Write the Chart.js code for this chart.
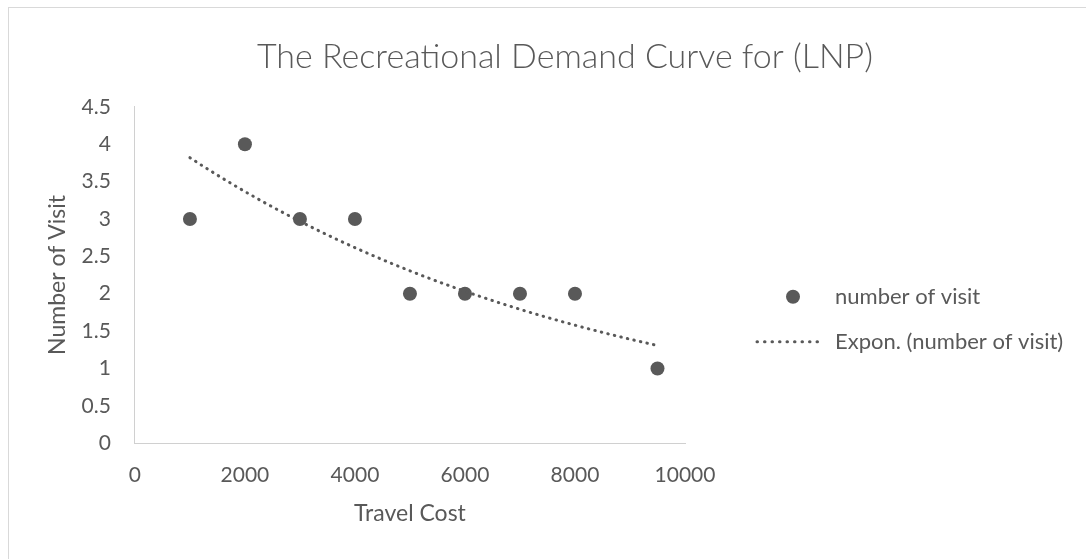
<!DOCTYPE html>
<html>
<head>
<meta charset="utf-8">
<title>Recreational Demand Curve</title>
<script src="https://cdn.jsdelivr.net/npm/chart.js@4/dist/chart.umd.min.js"></script>
<style>
  html, body { margin: 0; padding: 0; background: #fff; overflow: hidden; }
  #frame {
    position: absolute; left: 8px; top: 7px;
    width: 1077px; height: 551px;
    border-left: 1px solid #d9d9d9; border-top: 1px solid #d9d9d9;
  }
  canvas { display: block; }
</style>
</head>
<body>
<div id="frame"><canvas id="demandChart"></canvas></div>
<script>
const travelCost = [1000, 2000, 3000, 4000, 5000, 6000, 7000, 8000, 9500];
const visits = [3, 4, 3, 3, 2, 2, 2, 2, 1];
const xTicks = [0, 2000, 4000, 6000, 8000, 10000];
const yTicks = [0, 0.5, 1, 1.5, 2, 2.5, 3, 3.5, 4, 4.5];
const seriesNames = ["number of visit", "Expon. (number of visit)"];

const GREY = "#595959";
const AXIS = "#d0d0d0";
const FONT = "Lato, 'Open Sans', sans-serif";

// "Expon." trendline: least squares fit of ln(y) against x, y = a * e^(b x)
function expFit(xs, ys) {
  const n = xs.length;
  const ly = ys.map((y) => Math.log(y));
  const mx = xs.reduce((s, v) => s + v, 0) / n;
  const my = ly.reduce((s, v) => s + v, 0) / n;
  let sxy = 0, sxx = 0;
  xs.forEach((x, i) => {
    sxy += (x - mx) * (ly[i] - my);
    sxx += (x - mx) * (x - mx);
  });
  const b = sxy / sxx;
  const a = Math.exp(my - b * mx);
  return (x) => a * Math.exp(b * x);
}

const fit = expFit(travelCost, visits);
const trendPoints = [];
const xFirst = travelCost[0], xLast = travelCost[travelCost.length - 1];
for (let x = xFirst; x <= xLast; x += 100) trendPoints.push({ x: x, y: fit(x) });

const scatterPoints = travelCost.map((x, i) => ({ x: x, y: visits[i] }));

// legend on the right, drawn next to the plot area
const sideLegend = {
  id: "sideLegend",
  afterDraw(chart) {
    const { ctx, chartArea } = chart;
    const cx = chartArea.right + 108;
    const tx = chartArea.right + 150;
    const y1 = chartArea.top + 190;
    const y2 = y1 + 45;
    ctx.save();
    ctx.fillStyle = GREY;
    ctx.beginPath();
    ctx.arc(cx, y1, 7, 0, Math.PI * 2);
    ctx.fill();

    ctx.strokeStyle = GREY;
    ctx.lineWidth = 3;
    ctx.lineCap = "round";
    ctx.setLineDash([0.5, 7]);
    ctx.beginPath();
    ctx.moveTo(cx - 36, y2);
    ctx.lineTo(cx + 25, y2);
    ctx.stroke();
    ctx.setLineDash([]);

    ctx.font = "22px " + FONT;
    ctx.textAlign = "left";
    ctx.textBaseline = "middle";
    ctx.fillText(seriesNames[0], tx, y1);
    ctx.fillText(seriesNames[1], tx, y2);
    ctx.restore();
  },
};

// invisible tick marks keep the label gap without padding being counted twice
const hiddenTicks = { display: true, drawOnChartArea: false, drawTicks: true, color: "rgba(0,0,0,0)" };

const ctx = document.getElementById("demandChart").getContext("2d");
new Chart(ctx, {
  type: "scatter",
  data: {
    datasets: [
      {
        label: seriesNames[0],
        data: scatterPoints,
        pointRadius: 7,
        pointHoverRadius: 7,
        pointBackgroundColor: GREY,
        pointBorderWidth: 0,
        order: 1,
      },
      {
        label: seriesNames[1],
        data: trendPoints,
        showLine: true,
        pointRadius: 0,
        borderColor: GREY,
        borderWidth: 3,
        borderDash: [0.5, 6.2],
        borderCapStyle: "round",
        tension: 0,
        order: 0,
      },
    ],
  },
  options: {
    responsive: true,
    maintainAspectRatio: false,
    animation: false,
    layout: { padding: { left: 35, right: 0, top: 0, bottom: 31 } },
    plugins: {
      legend: { display: false },
      tooltip: { enabled: false },
      title: {
        display: true,
        text: "The Recreational Demand Curve for (LNP)",
        color: GREY,
        font: { family: FONT, size: 34, weight: 300 },
        padding: { top: 29, bottom: 29 },
      },
    },
    scales: {
      x: {
        type: "linear",
        min: 0,
        max: 10000,
        grid: Object.assign({ tickLength: 17 }, hiddenTicks),
        border: { display: true, color: AXIS, width: 1 },
        afterBuildTicks: (scale) => { scale.ticks = xTicks.map((v) => ({ value: v })); },
        ticks: {
          color: GREY,
          padding: 2,
          maxRotation: 0,
          font: { family: FONT, size: 21 },
          callback: (v) => String(v),
        },
        title: {
          display: true,
          text: "Travel Cost",
          color: GREY,
          font: { family: FONT, size: 23 },
          padding: { top: 10, bottom: 1 },
        },
      },
      y: {
        type: "linear",
        min: 0,
        max: 4.5,
        grid: Object.assign({ tickLength: 22 }, hiddenTicks),
        border: { display: true, color: AXIS, width: 1 },
        afterBuildTicks: (scale) => { scale.ticks = yTicks.map((v) => ({ value: v })); },
        ticks: {
          color: GREY,
          padding: 2,
          font: { family: FONT, size: 21 },
          callback: (v) => String(v),
        },
        title: {
          display: true,
          text: "Number of Visit",
          color: GREY,
          font: { family: FONT, size: 23 },
          padding: { top: 0, bottom: 8 },
        },
      },
      // empty right-hand box that holds the space for the legend
      legendSpace: {
        type: "linear",
        position: "right",
        grid: { display: false },
        border: { display: false },
        ticks: { display: false },
        afterFit: (scale) => { scale.width = 401; },
      },
    },
  },
  plugins: [sideLegend],
});
</script>
</body>
</html>
